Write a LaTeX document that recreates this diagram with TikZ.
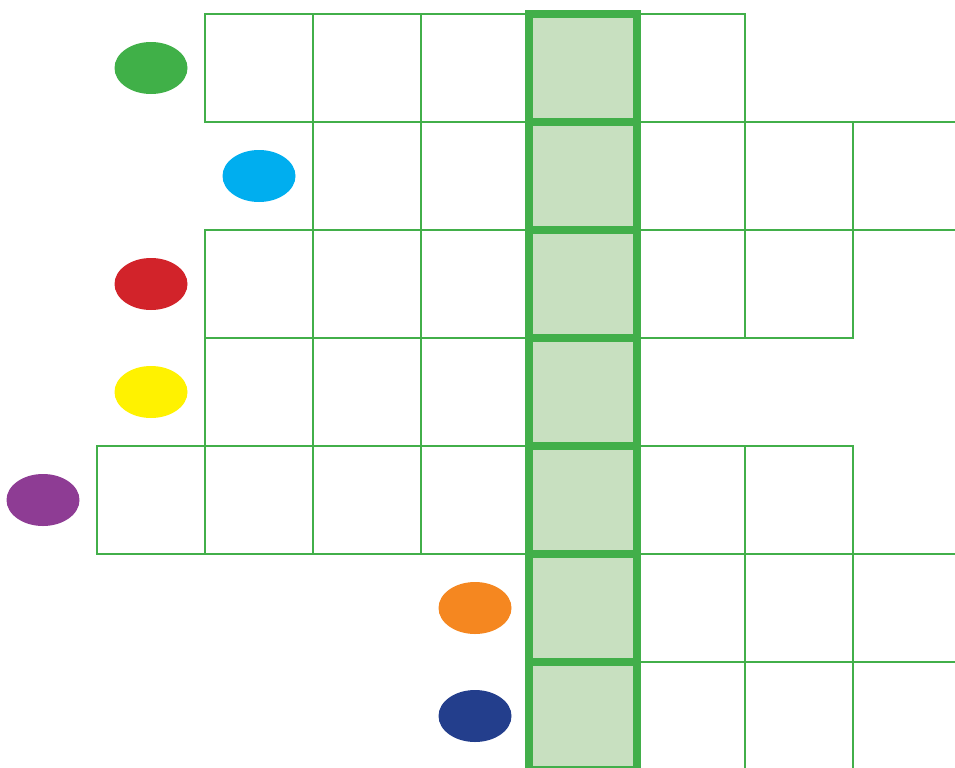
\documentclass[tikz,border=0pt]{standalone}
\usetikzlibrary{shapes.geometric, positioning}
\usepackage{xcolor}
\definecolor{gridgreen}{RGB}{66,175,74}
\definecolor{wordfill}{RGB}{200,224,192}
\definecolor{cluegreen}{RGB}{64,176,72}
\definecolor{clueblue}{RGB}{0,174,239}
\definecolor{cluered}{RGB}{210,35,42}
\definecolor{clueyellow}{RGB}{255,242,0}
\definecolor{cluepurple}{RGB}{142,60,148}
\definecolor{clueorange}{RGB}{245,135,32}
\definecolor{cluenavy}{RGB}{35,62,140}
\tikzset{
    cell/.style={draw=gridgreen, line width=0.75pt},
    wordcell/.style={draw=gridgreen, fill=wordfill, line width=2.4pt},
    clue/.style={ellipse, minimum width=7.3mm, minimum height=5.2mm, inner sep=0pt}
}

\begin{document}
\begin{tikzpicture}[x=0.1mm, y=-0.1mm]

    \useasboundingbox (0,0) rectangle (955,767);
    \clip (0,0) rectangle (955,767);

    % rows of the grid: row / first column / last column
    \foreach \r/\first/\last in {0/1/5, 1/2/7, 2/1/6, 3/1/4, 4/0/6, 5/4/7, 6/4/7}
        \foreach \c in {\first,...,\last}
            \draw[cell] ({97+108*\c},{14+108*\r}) rectangle ++(108,108);

    % the solution column
    \foreach \r in {0,...,6}
        \draw[wordcell] (529,{14+108*\r}) rectangle ++(108,108);

    \node[clue, fill=cluegreen] (clue1) at (151,68) {};
    \node[clue, fill=clueblue] (clue2) at (259,176) {};
    \node[clue, fill=cluered] (clue3) at (151,284) {};
    \node[clue, fill=clueyellow] (clue4) at (151,392) {};
    \node[clue, fill=cluepurple] (clue5) at (43,500) {};
    \node[clue, fill=clueorange] (clue6) at (475,608) {};
    \node[clue, fill=cluenavy] (clue7) at (475,716) {};

\end{tikzpicture}
\end{document}
